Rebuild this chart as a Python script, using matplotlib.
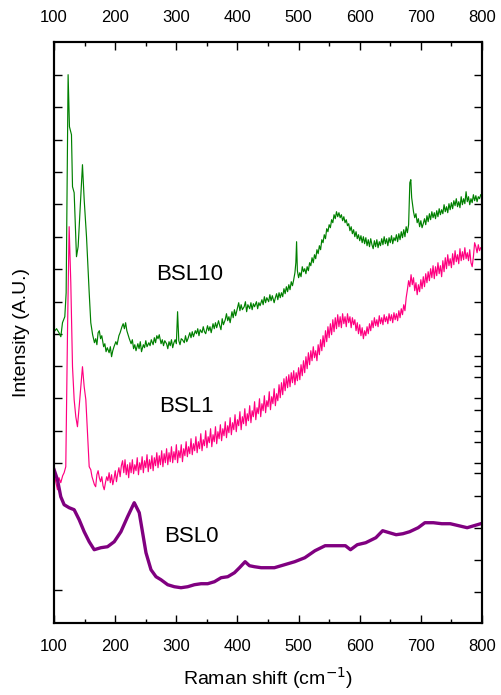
import matplotlib.pyplot as plt
import numpy as np

plt.rcParams['font.family'] = ['Liberation Sans', 'DejaVu Sans']

# BSL10 (green): (Raman shift, intensity)
bsl10_pts = [
    (100, 291), (104, 294), (108, 290), (111, 286), (113.7, 300), (117.5, 306), (119.7, 330),
    (122.9, 548), (125.1, 496), (128.4, 488), (130.1, 436), (132.8, 430), (136.6, 366), (139.3, 376),
    (146.4, 458), (149.2, 423), (153.0, 386), (157.4, 330),
    (160, 300), (163, 288), (166, 280), (168, 284), (170, 278), (172, 290), (174, 292), (176, 284),
    (178, 287), (181, 276), (183, 279), (185, 271), (187, 275), (190, 270), (192, 276), (194, 266),
    (196, 272), (198, 276), (201, 281), (203, 278), (206, 287), (208, 290), (211, 296), (213, 299),
    (215, 294), (217, 300), (219, 292), (221, 288), (223, 284), (226, 279), (228, 283), (230, 274),
    (232, 278), (234, 272), (237, 279), (239, 274), (241, 281), (243, 271), (246, 278), (248, 275),
    (250, 282), (252, 276), (255, 280), (257, 277), (259, 283), (262, 278), (264, 285), (266, 280),
    (268, 287), (270, 284), (272, 288), (275, 279), (277, 283), (279, 277), (281, 282), (284, 279),
    (286, 274), (288, 281), (290, 277), (292, 283), (294, 275), (296, 280), (298, 283), (300, 279),
    (302, 311), (304, 282), (306, 278), (308, 284), (310, 283), (313, 280), (315, 287), (317, 281),
    (319, 284), (322, 290), (324, 285), (326, 291), (328, 286), (331, 292), (333, 289), (335, 294),
    (337, 287), (339, 293), (342, 290), (344, 296), (346, 291), (348, 289), (351, 297), (353, 292),
    (355, 296), (357, 290), (360, 299), (362, 294), (364, 300), (366, 295), (369, 302), (371, 297),
    (373, 293), (375, 304), (377, 298), (380, 303), (382, 309), (384, 302), (386, 306), (388, 300),
    (391, 311), (393, 305), (395, 313), (397, 307), (400, 315), (402, 320), (404, 312), (406, 318),
    (408, 313), (411, 316), (413, 321), (415, 311), (417, 318), (420, 314), (422, 320), (424, 313),
    (426, 319), (428, 316), (431, 321), (433, 314), (435, 320), (437, 317), (440, 323), (442, 318),
    (444, 326), (446, 320), (448, 325), (451, 321), (453, 328), (455, 322), (457, 327), (460, 320),
    (462, 325), (464, 329), (466, 323), (468, 330), (470, 325), (472, 330), (474, 326), (476, 334),
    (478, 329), (480, 336), (482, 331), (484, 338), (486, 333), (488, 341), (490, 337), (492, 343),
    (494, 350), (495.5, 360), (496.7, 381), (498, 352), (500, 345), (502, 350), (504, 346), (506, 356),
    (508, 351), (510, 354), (512, 349), (514, 356), (516, 352), (518, 360), (520, 357), (522, 365),
    (524, 360), (526, 368), (528, 364), (530, 373), (532, 369), (534, 377), (536, 373), (538, 383),
    (540, 380), (542, 388), (544, 384), (546, 394), (548, 391), (550, 398), (552, 395), (554, 403),
    (556, 400), (558, 408), (560, 404), (562, 411), (564, 406), (566, 410), (568, 405), (570, 408),
    (572, 402), (574, 406), (576, 400), (578, 403), (580, 397), (582, 399), (584, 392), (586, 396),
    (588, 389), (590, 393), (592, 386), (594, 391), (596, 384), (598, 388), (600, 382), (602, 387),
    (604, 380), (606, 386), (608, 379), (610, 385), (612, 377), (614, 383), (616, 376), (618, 384),
    (620, 378), (622, 374), (624, 382), (626, 376), (628, 383), (630, 375), (632, 381), (634, 377),
    (636, 384), (638, 378), (640, 386), (642, 379), (644, 384), (646, 377), (648, 385), (650, 380),
    (652, 387), (654, 379), (656, 385), (658, 382), (660, 388), (662, 381), (664, 389), (666, 383),
    (668, 391), (670, 385), (672, 393), (674, 386), (676, 396), (678, 390), (680, 398), (682, 440),
    (683.6, 443), (685, 425), (688, 411), (690, 405), (692, 409), (694, 400), (696, 404), (698, 396),
    (700, 402), (702, 395), (704, 399), (706, 404), (708, 398), (710, 407), (712, 401), (714, 409),
    (716, 403), (718, 411), (720, 405), (722, 410), (724, 404), (726, 412), (728, 406), (730, 414),
    (732, 408), (734, 413), (736, 409), (738, 418), (740, 411), (742, 416), (744, 410), (746, 419),
    (748, 413), (750, 420), (752, 414), (754, 422), (756, 417), (758, 424), (760, 416), (762, 421),
    (764, 415), (766, 426), (768, 418), (770, 424), (772, 419), (774, 431), (776, 421), (778, 426),
    (780, 418), (782, 424), (784, 420), (786, 428), (788, 422), (790, 427), (792, 421), (794, 426),
    (796, 424), (798, 428),
]

# BSL1 (pink)
bsl1_pts = [
    (100, 150), (103, 140), (105.5, 133), (108, 145), (110.9, 140), (114, 147), (116.4, 150),
    (119.1, 156), (121.9, 290), (124.6, 396), (127.3, 340), (130.1, 256), (132.8, 223), (135.5, 206),
    (138.2, 196), (141.0, 216), (146.4, 256), (149.2, 236), (151.9, 223), (154.6, 190), (157.4, 156),
    (160, 153), (162, 146), (164, 142), (166, 138), (168, 136), (170, 148), (172, 152), (174, 145),
    (176, 141), (178, 146), (180, 137), (182, 133), (184, 140), (186, 146), (188, 142), (190, 150),
    (192, 140), (194, 148), (196, 138), (198, 144), (200, 152), (202, 141), (204, 149), (206, 155),
    (208, 146), (210, 157), (212, 162), (214, 150), (216, 163), (218, 148), (220, 158), (222, 145),
    (224, 160), (226, 150), (228, 163), (230, 149), (232, 158), (234, 152), (236, 165), (238, 148),
    (240, 160), (242, 153), (244, 166), (246, 150), (248, 162), (250, 155), (252, 168), (254, 151),
    (256, 163), (258, 154), (260, 167), (262, 152), (264, 165), (266, 157), (268, 170), (270, 155),
    (272, 167), (274, 158), (276, 172), (278, 156), (280, 169), (282, 160), (284, 174), (286, 158),
    (288, 170), (290, 161), (292, 176), (294, 160), (296, 171), (298, 163), (300, 178), (302, 160),
    (304, 172), (306, 165), (308, 178), (310, 161), (312, 174), (314, 167), (316, 181), (318, 166),
    (320, 176), (322, 169), (324, 184), (326, 168), (328, 179), (330, 172), (332, 186), (334, 170),
    (336, 181), (338, 174), (340, 189), (342, 172), (344, 183), (346, 177), (348, 192), (350, 175),
    (352, 186), (354, 180), (356, 194), (358, 176), (360, 188), (362, 181), (364, 196), (366, 179),
    (368, 191), (370, 184), (372, 198), (374, 182), (376, 194), (378, 187), (380, 201), (382, 185),
    (384, 197), (386, 190), (388, 205), (390, 188), (392, 200), (394, 193), (396, 208), (398, 191),
    (400, 203), (402, 197), (404, 211), (406, 193), (408, 206), (410, 199), (412, 214), (414, 197),
    (416, 209), (418, 202), (420, 217), (422, 200), (424, 212), (426, 206), (428, 221), (430, 203),
    (432, 215), (434, 209), (436, 224), (438, 206), (440, 219), (442, 212), (444, 227), (446, 210),
    (448, 222), (450, 216), (452, 231), (454, 213), (456, 226), (458, 219), (460, 234), (462, 217),
    (464, 229), (466, 222), (468, 238), (470, 225), (472, 240), (474, 228), (476, 244), (478, 232),
    (480, 246), (482, 235), (484, 248), (486, 236), (488, 250), (490, 240), (492, 252), (494, 238),
    (496, 250), (498, 242), (500, 255), (502, 243), (504, 258), (506, 247), (508, 262), (510, 250),
    (512, 266), (514, 254), (516, 270), (518, 258), (520, 272), (522, 262), (524, 276), (526, 265),
    (528, 272), (530, 262), (532, 278), (534, 268), (536, 283), (538, 272), (540, 287), (542, 276),
    (544, 292), (546, 281), (548, 296), (550, 285), (552, 299), (554, 288), (556, 303), (558, 291),
    (560, 305), (562, 294), (564, 308), (566, 296), (568, 306), (570, 295), (572, 309), (574, 299),
    (576, 306), (578, 296), (580, 309), (582, 300), (584, 306), (586, 295), (588, 305), (590, 298),
    (592, 303), (594, 292), (596, 300), (598, 289), (600, 298), (602, 287), (604, 295), (606, 284),
    (608, 292), (610, 287), (612, 296), (614, 289), (616, 299), (618, 292), (620, 302), (622, 295),
    (624, 305), (626, 297), (628, 303), (630, 296), (632, 307), (634, 299), (636, 305), (638, 298),
    (640, 308), (642, 301), (644, 306), (646, 299), (648, 309), (650, 302), (652, 308), (654, 300),
    (656, 310), (658, 303), (660, 309), (662, 302), (664, 312), (666, 305), (668, 314), (670, 308),
    (672, 318), (674, 312), (676, 325), (678, 333), (680, 342), (682, 336), (684, 348), (686, 338),
    (688, 345), (690, 332), (692, 340), (694, 328), (696, 338), (698, 331), (700, 343), (702, 334),
    (704, 346), (706, 336), (708, 349), (710, 340), (712, 351), (714, 342), (716, 354), (718, 345),
    (720, 357), (722, 344), (724, 356), (726, 347), (728, 360), (730, 349), (732, 357), (734, 346),
    (736, 362), (738, 351), (740, 365), (742, 354), (744, 368), (746, 357), (748, 364), (750, 355),
    (752, 369), (754, 358), (756, 372), (758, 361), (760, 368), (762, 359), (764, 374), (766, 362),
    (768, 371), (770, 363), (772, 375), (774, 364), (776, 370), (778, 362), (780, 373), (782, 360),
    (784, 356), (786, 366), (788, 380), (790, 376), (792, 370), (794, 378), (796, 372), (798, 375),
]

# BSL0 (purple)
bsl0_x = [100, 105.5, 110.9, 116.4, 124.6, 132.8, 141.0, 149.2, 157.4, 165.6, 176.5, 187.4, 198.4,
          209.3, 220.2, 231.1, 239.3, 244.8, 250.3, 258.5, 266.7, 274.8, 285.8, 296.7, 307.6, 318.6,
          329.5, 340.4, 351.3, 362.3, 373.2, 384.1, 395.1, 403.3, 412.5, 419.6, 427.8, 438.8, 449.7,
          460.4, 477.0, 493.6, 510.2, 526.8, 543.4, 560.0, 576.6, 584.9, 596.0, 609.8, 626.4, 637.5,
          648.5, 659.6, 670.7, 681.7, 695.6, 706.6, 720.5, 734.3, 748.1, 762.0, 775.8, 786.9, 798.0]
bsl0_y = [153, 143, 126, 118, 115, 113, 103, 91, 81, 73, 75, 76, 81,
          91, 106, 120, 110, 90, 70, 53, 46, 43, 38, 36, 35, 36,
          38, 39, 39, 41, 45, 46, 50, 55, 61, 57, 56, 55, 55,
          55, 58, 61, 65, 72, 77, 77, 77, 73, 78, 80, 85, 92,
          90, 88, 89, 91, 95, 100, 100, 99, 99, 97, 95, 97, 99]

sample_names = ['BSL10', 'BSL1', 'BSL0']
label_pos = [(321, 348), (317, 216), (325, 86)]

fig = plt.figure(figsize=(5.01, 6.95), dpi=100)
ax = fig.add_axes([0.108, 0.104, 0.854, 0.836])

x10, y10 = zip(*bsl10_pts)
x1, y1 = zip(*bsl1_pts)
ax.plot(x10, y10, color='#008000', lw=0.85)
ax.plot(x1, y1, color='#ff0080', lw=0.85)
ax.plot(bsl0_x, bsl0_y, color='#800080', lw=2.4)

for name, (lx, ly) in zip(sample_names, label_pos):
    ax.text(lx, ly, name, fontsize=16, ha='center', va='center')

ax.set_xlim(100, 800)
ax.set_ylim(0, 581)
ax.set_xticks(np.arange(100, 801, 100))
ax.set_xticks(np.arange(150, 800, 100), minor=True)
ax.tick_params(axis='x', which='both', direction='in', top=True, labeltop=True,
               labelsize=12)
ax.tick_params(axis='x', which='major', length=6, width=1, pad=12)
ax.tick_params(axis='x', which='minor', length=3, width=1)

left_ticks = [33, 160, 192, 225, 257, 289, 321, 354, 386, 419, 451, 483, 516, 548]
ax.set_yticks(left_ticks)
ax.set_yticklabels([])
ax.tick_params(axis='y', direction='in', length=6, width=1)

axr = ax.twinx()
axr.set_ylim(0, 581)
axr.set_yticks([31, 63, 95, 127, 150, 160, 181, 192, 213, 225, 246, 257, 267, 289,
                321, 354, 364, 386, 419, 451, 483, 516, 548])
axr.set_yticklabels([])
axr.tick_params(axis='y', direction='in', length=6, width=1)

for a in (ax, axr):
    for s in a.spines.values():
        s.set_linewidth(1.5)

ax.set_xlabel('Raman shift (cm$^{-1}$)', fontsize=14, labelpad=8)
ax.set_ylabel('Intensity (A.U.)', fontsize=14, labelpad=14)

fig.savefig('out.png', dpi=100)
